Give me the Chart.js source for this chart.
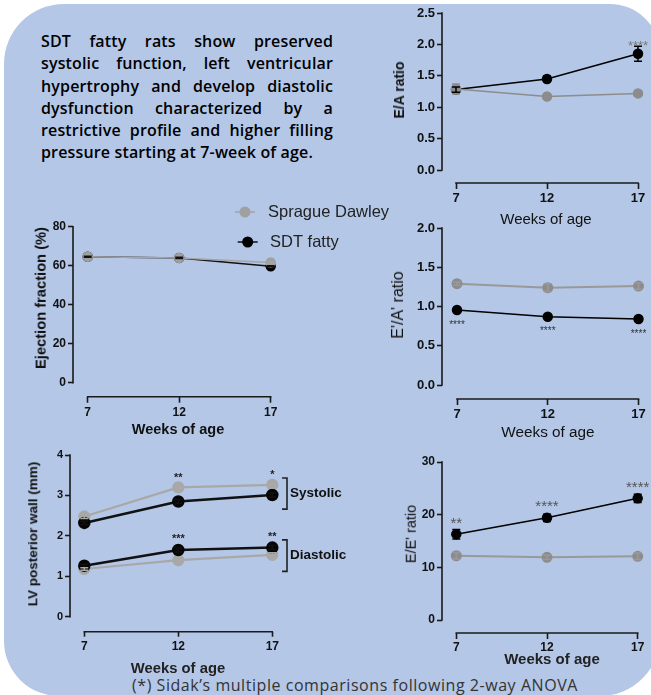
<!DOCTYPE html>
<html><head><meta charset="utf-8">
<script src="https://cdn.jsdelivr.net/npm/chart.js@4.4.1/dist/chart.umd.min.js"></script>
<style>
html,body{margin:0;padding:0;background:#fff;}
#wrap{position:relative;width:651px;height:695px;overflow:hidden;background:#fff;}
#bg{position:absolute;left:4px;top:4px;width:656px;height:692px;background:#b4c7e7;border-radius:60px 50px 60px 55px;}
canvas{position:absolute;left:0;top:0;}
.t{position:absolute;white-space:nowrap;font-family:"Liberation Sans",Arial,sans-serif;color:#111;line-height:1;}
#para{position:absolute;left:41px;top:30px;width:292px;font-family:"Open Sans",sans-serif;font-weight:600;font-size:16px;line-height:22.3px;letter-spacing:0.15px;color:#000;}
#para div{text-align:justify;text-align-last:justify;white-space:nowrap;}
#para div.last{text-align:left;text-align-last:left;}
#foot{position:absolute;left:132px;top:675px;font-family:"Open Sans",sans-serif;font-size:16px;letter-spacing:0.55px;line-height:20px;color:#333;white-space:nowrap;}
</style></head>
<body>
<div id="wrap">
  <div id="bg"></div>
  <div id="para">
    <div>SDT fatty rats show preserved</div>
    <div>systolic function, left ventricular</div>
    <div>hypertrophy and develop diastolic</div>
    <div>dysfunction characterized by a</div>
    <div>restrictive profile and higher filling</div>
    <div class="last">pressure starting at 7-week of age.</div>
  </div>
  <div id="foot">(*) Sidak’s multiple comparisons following 2-way ANOVA</div>
</div>
<script>
// ---------- DATA ----------
const weeks = [7, 12, 17];
const seriesNames = ['Sprague Dawley', 'SDT fatty'];

// E/A ratio
const eaSD = [1.29, 1.17, 1.22];
const eaSDerr = [0.08, 0.02, 0.02];
const eaSDT = [1.28, 1.45, 1.85];
const eaSDTerr = [0.04, 0.05, 0.12];
const eaSig = ['', '', '****'];
const eaTicks = [0, 0.5, 1.0, 1.5, 2.0, 2.5];

// E'/A' ratio
const eapSD = [1.29, 1.24, 1.26];
const eapSDerr = [0.02, 0.05, 0.04];
const eapSDT = [0.955, 0.87, 0.84];
const eapSDTerr = [0.02, 0.02, 0.02];
const eapSig = ['****', '****', '****'];
const eapTicks = [0, 0.5, 1.0, 1.5, 2.0];

// E/E' ratio
const eeSD = [12.2, 11.9, 12.1];
const eeSDerr = [0.6, 0.4, 0.6];
const eeSDT = [16.3, 19.4, 23.1];
const eeSDTerr = [0.9, 0.7, 0.8];
const eeSig = ['**', '****', '****'];
const eeTicks = [0, 10, 20, 30];

// Ejection fraction (%)
const efSD = [64.6, 64.0, 61.6];
const efSDerr = [0.3, 0.3, 0.3];
const efSDT = [64.6, 64.0, 59.7];
const efSDTerr = [0.3, 0.3, 0.3];
const efTicks = [0, 20, 40, 60, 80];

// LV posterior wall (mm)
const lvSysSD = [2.48, 3.20, 3.26];
const lvSysSDerr = [0.05, 0.05, 0.08];
const lvSysSDT = [2.32, 2.85, 3.01];
const lvSysSDTerr = [0.04, 0.05, 0.05];
const lvDiaSD = [1.18, 1.40, 1.53];
const lvDiaSDerr = [0.03, 0.04, 0.05];
const lvDiaSDT = [1.26, 1.65, 1.71];
const lvDiaSDTerr = [0.04, 0.05, 0.05];
const lvSysSig = ['', '**', '*'];
const lvDiaSig = ['', '***', '**'];
const lvTicks = [0, 1, 2, 3, 4];
const lvGroups = ['Systolic', 'Diastolic'];

// ---------- RENDERING ----------
const W = 651, H = 695, YW = 40, XH = 30;
const FONT = '"Liberation Sans", Arial, sans-serif';
const wrap = document.getElementById('wrap');

function addText(txt, x, y, css, rot) {
  const d = document.createElement('div');
  d.className = 't';
  d.textContent = txt;
  d.style.cssText += css;
  d.style.left = x + 'px';
  d.style.top = y + 'px';
  d.style.transform = 'translate(-50%,-50%)' + (rot ? ' rotate(-90deg)' : '');
  wrap.appendChild(d);
}

const gpPlugin = {
  id: 'gp',
  beforeDatasetsDraw(chart) {
    const o = chart.options.plugins.gp;
    const { ctx, chartArea: a, scales: { x, y } } = chart;
    ctx.save();
    ctx.strokeStyle = '#1a1a1a';
    ctx.lineWidth = o.axisW;
    ctx.lineCap = 'square';
    ctx.beginPath();
    ctx.moveTo(a.left, y.getPixelForValue(o.yTicks[o.yTicks.length - 1]));
    ctx.lineTo(a.left, y.getPixelForValue(o.yTicks[0]));
    ctx.moveTo(x.getPixelForValue(weeks[0]), a.bottom);
    ctx.lineTo(x.getPixelForValue(weeks[weeks.length - 1]), a.bottom);
    ctx.stroke();
    ctx.restore();
  },
  afterDatasetsDraw(chart) {
    const o = chart.options.plugins.gp;
    const { ctx, scales: { y } } = chart;
    ctx.save();
    chart.data.datasets.forEach((ds, i) => {
      const meta = chart.getDatasetMeta(i);
      meta.data.forEach((pt, j) => {
        const v = ds.data[j].y;
        let errPx = 0;
        if (ds.errors) {
          const e = ds.errors[j];
          const yt = y.getPixelForValue(v + e), yb = y.getPixelForValue(v - e);
          errPx = pt.y - yt;
          ctx.strokeStyle = ds.borderColor;
          ctx.lineWidth = 1.5;
          ctx.beginPath();
          ctx.moveTo(pt.x, yt); ctx.lineTo(pt.x, yb);
          ctx.moveTo(pt.x - 4, yt); ctx.lineTo(pt.x + 4, yt);
          ctx.moveTo(pt.x - 4, yb); ctx.lineTo(pt.x + 4, yb);
          ctx.stroke();
        }
        if (ds.sig && ds.sig[j]) {
          const s = ds.sigStyle;
          const cy = s.below ? pt.y + s.gap : pt.y - Math.max(errPx, 5) - s.gap;
          ctx.fillStyle = s.color;
          ctx.font = (s.weight || 'normal') + ' ' + s.size + 'px ' + FONT;
          ctx.textAlign = 'center';
          ctx.textBaseline = 'alphabetic';
          ctx.fillText(ds.sig[j], pt.x + (s.dx || 0), cy + 0.57 * s.size);
        }
      });
    });
    if (o.brackets) {
      o.brackets.forEach(b => {
        const yt = y.getPixelForValue(b.from), yb = y.getPixelForValue(b.to);
        ctx.strokeStyle = '#222'; ctx.lineWidth = 1.6;
        ctx.beginPath();
        ctx.moveTo(b.x - 5, yt); ctx.lineTo(b.x, yt); ctx.lineTo(b.x, yb); ctx.lineTo(b.x - 5, yb);
        ctx.stroke();
        ctx.fillStyle = '#111';
        ctx.font = 'bold 13.5px ' + FONT;
        ctx.textAlign = 'left'; ctx.textBaseline = 'middle';
        ctx.fillText(b.label, b.x + 3, (yt + yb) / 2);
      });
    }
    if (o.legend) {
      const L = o.legend;
      chart.data.datasets.forEach((ds, k) => {
        const it = L.items[k];
        ctx.strokeStyle = ds.borderColor; ctx.lineWidth = 1.5;
        ctx.beginPath(); ctx.moveTo(it.x - 10, it.y); ctx.lineTo(it.x + 10, it.y); ctx.stroke();
        ctx.fillStyle = ds.pointBackgroundColor;
        ctx.beginPath(); ctx.arc(it.x, it.y, 5.5, 0, Math.PI * 2); ctx.fill();
        ctx.fillStyle = '#222';
        ctx.font = '16.5px ' + FONT;
        ctx.textAlign = 'left'; ctx.textBaseline = 'middle';
        ctx.fillText(ds.label, it.tx, it.y);
      });
    }
    ctx.restore();
  }
};

function pts(vals) { return weeks.map((w, i) => ({ x: w, y: vals[i] })); }

function series(label, vals, errs, color, lineColor, lw, r, extra) {
  return Object.assign({
    label, data: pts(vals), errors: errs,
    borderColor: lineColor, backgroundColor: color,
    pointBackgroundColor: color, pointBorderColor: color,
    borderWidth: lw, pointRadius: r, pointHoverRadius: r, tension: 0, clip: false
  }, extra || {});
}

function panel(g) {
  const cv = document.createElement('canvas');
  cv.width = W; cv.height = H;
  wrap.appendChild(cv);
  const pxW = (g.x17 - g.x7) / 10;
  const xmin = 7 - (g.x7 - g.l) / pxW, xmax = 17 + (g.r - g.x17) / pxW;
  const top = g.yTicks[g.yTicks.length - 1];
  const pxU = (g.y0 - g.t) / top;
  const ymin = -(g.b - g.y0) / pxU;
  new Chart(cv, {
    type: 'line',
    data: { datasets: g.datasets },
    options: {
      responsive: false, animation: false, devicePixelRatio: 1,
      layout: { autoPadding: false, padding: { left: g.l - YW, top: g.t, right: W - g.r, bottom: H - g.b - XH } },
      events: [],
      plugins: {
        legend: { display: false }, tooltip: { enabled: false },
        gp: { yTicks: g.yTicks, axisW: g.axisW || 1.6, brackets: g.brackets, legend: g.legend }
      },
      scales: {
        x: {
          type: 'linear', min: xmin, max: xmax,
          afterFit: s => { s.height = XH; },
          afterBuildTicks: s => { s.ticks = weeks.map(v => ({ value: v })); },
          grid: { display: true, drawOnChartArea: false, drawTicks: true, tickLength: g.tl || 6, tickWidth: 1.6, tickColor: '#1a1a1a' },
          border: { display: false },
          ticks: { autoSkip: false, maxRotation: 0, padding: g.xPad, color: '#111',
                   font: { family: FONT, size: g.xFont, weight: 'bold' }, callback: v => String(v) }
        },
        y: {
          min: ymin, max: top,
          afterFit: s => { s.width = YW; },
          afterBuildTicks: s => { s.ticks = g.yTicks.map(v => ({ value: v })); },
          grid: { display: true, drawOnChartArea: false, drawTicks: true, tickLength: g.tl || 5, tickWidth: 1.6, tickColor: '#1a1a1a' },
          border: { display: false },
          ticks: { padding: g.yPad || 2, color: '#111',
                   font: { family: FONT, size: g.yFont, weight: 'bold' }, callback: g.fmt || (v => String(v)) }
        }
      }
    },
    plugins: [gpPlugin]
  });
}

const GRAY = '#8c8c8c';
const BLACK = '#000000';

// Panel: E/A ratio
panel({
  l: 442, t: 13, r: 648, b: 183, y0: 170, x7: 456, x17: 638,
  yTicks: eaTicks, fmt: v => v.toFixed(1), xFont: 13, yFont: 13, xPad: 2,
  datasets: [
    series(seriesNames[0], eaSD, eaSDerr, GRAY, GRAY, 1.5, 4.5),
    series(seriesNames[1], eaSDT, eaSDTerr, BLACK, BLACK, 1.5, 4.5,
      { sig: eaSig, sigStyle: { size: 13, color: '#7a7a7a', gap: 4 } })
  ]
});
addText('E/A ratio', 399, 90, 'font-weight:bold;font-size:14px;', true);
addText('Weeks of age', 546, 218, 'font-size:15px;');

// Panel: E'/A' ratio
panel({
  l: 442, t: 228, r: 648, b: 399, y0: 385, x7: 457, x17: 638.5,
  yTicks: eapTicks, fmt: v => v.toFixed(1), xFont: 13, yFont: 13, xPad: 2,
  datasets: [
    series(seriesNames[0], eapSD, eapSDerr, GRAY, '#999999', 2, 4.5),
    series(seriesNames[1], eapSDT, eapSDTerr, BLACK, BLACK, 1.5, 4.5,
      { sig: eapSig, sigStyle: { size: 10, color: '#333', gap: 12, below: true } })
  ]
});
addText('E\'/A\' ratio', 398, 305, 'font-size:16px;', true);
addText('Weeks of age', 548, 432, 'font-size:15.3px;');

// Panel: E/E' ratio
panel({
  l: 442, t: 462, r: 648, b: 633, y0: 620, x7: 456.3, x17: 637.7,
  yTicks: eeTicks, xFont: 12, yFont: 12, xPad: 1,
  datasets: [
    series(seriesNames[0], eeSD, eeSDerr, GRAY, '#999999', 2, 4.5),
    series(seriesNames[1], eeSDT, eeSDTerr, BLACK, BLACK, 1.5, 4.5,
      { sig: eeSig, sigStyle: { size: 15, color: '#555', gap: 10 } })
  ]
});
addText('E/E\' ratio', 411, 534, 'font-size:14.5px;', true);
addText('Weeks of age', 552, 658, 'font-weight:bold;font-size:15px;color:#222;');

// Panel: Ejection fraction
panel({
  l: 73, t: 226.7, r: 282, b: 396.7, y0: 382.7, x7: 87.7, x17: 270.7,
  yTicks: efTicks, xFont: 12, yFont: 12, xPad: 3,
  legend: { items: [{ x: 245, y: 212, tx: 268 }, { x: 247.7, y: 242, tx: 270 }] },
  datasets: [
    series(seriesNames[0], efSD, efSDerr, '#a0a0a0', '#a5a5a5', 1.5, 4.5),
    series(seriesNames[1], efSDT, efSDTerr, BLACK, '#111111', 1.5, 4.5)
  ]
});
addText('Ejection fraction (%)', 41, 298, 'font-weight:bold;font-size:14.7px;', true);
addText('Weeks of age', 178, 429, 'font-weight:bold;font-size:14.5px;');

// Panel: LV posterior wall
panel({
  l: 70, t: 455, r: 284, b: 631.7, y0: 616.7, x7: 84.3, x17: 272.3,
  yTicks: lvTicks, xFont: 12, yFont: 11, xPad: 2.5, tl: 5,
  brackets: [
    { label: lvGroups[0], x: 287, from: 3.43, to: 2.66 },
    { label: lvGroups[1], x: 287, from: 1.90, to: 1.12 }
  ],
  datasets: [
    series(seriesNames[1], lvSysSDT, lvSysSDTerr, '#050505', '#111111', 2.5, 5),
    series(seriesNames[1], lvDiaSDT, lvDiaSDTerr, '#050505', '#111111', 2.5, 5,
      { sig: lvDiaSig, sigStyle: { size: 11, color: '#222', gap: 9, weight: 'bold' } }),
    series(seriesNames[0], lvSysSD, lvSysSDerr, '#a8a8a8', '#a8a8a8', 2.2, 5,
      { sig: lvSysSig, sigStyle: { size: 11, color: '#222', gap: 8, weight: 'bold' } }),
    series(seriesNames[0], lvDiaSD, lvDiaSDerr, '#a8a8a8', '#a8a8a8', 2.2, 5)
  ]
});
addText('LV posterior wall (mm)', 33, 534, 'font-weight:bold;font-size:13.5px;', true);
addText('Weeks of age', 178, 668, 'font-weight:bold;font-size:14.8px;color:#222;');
</script>
</body></html>
